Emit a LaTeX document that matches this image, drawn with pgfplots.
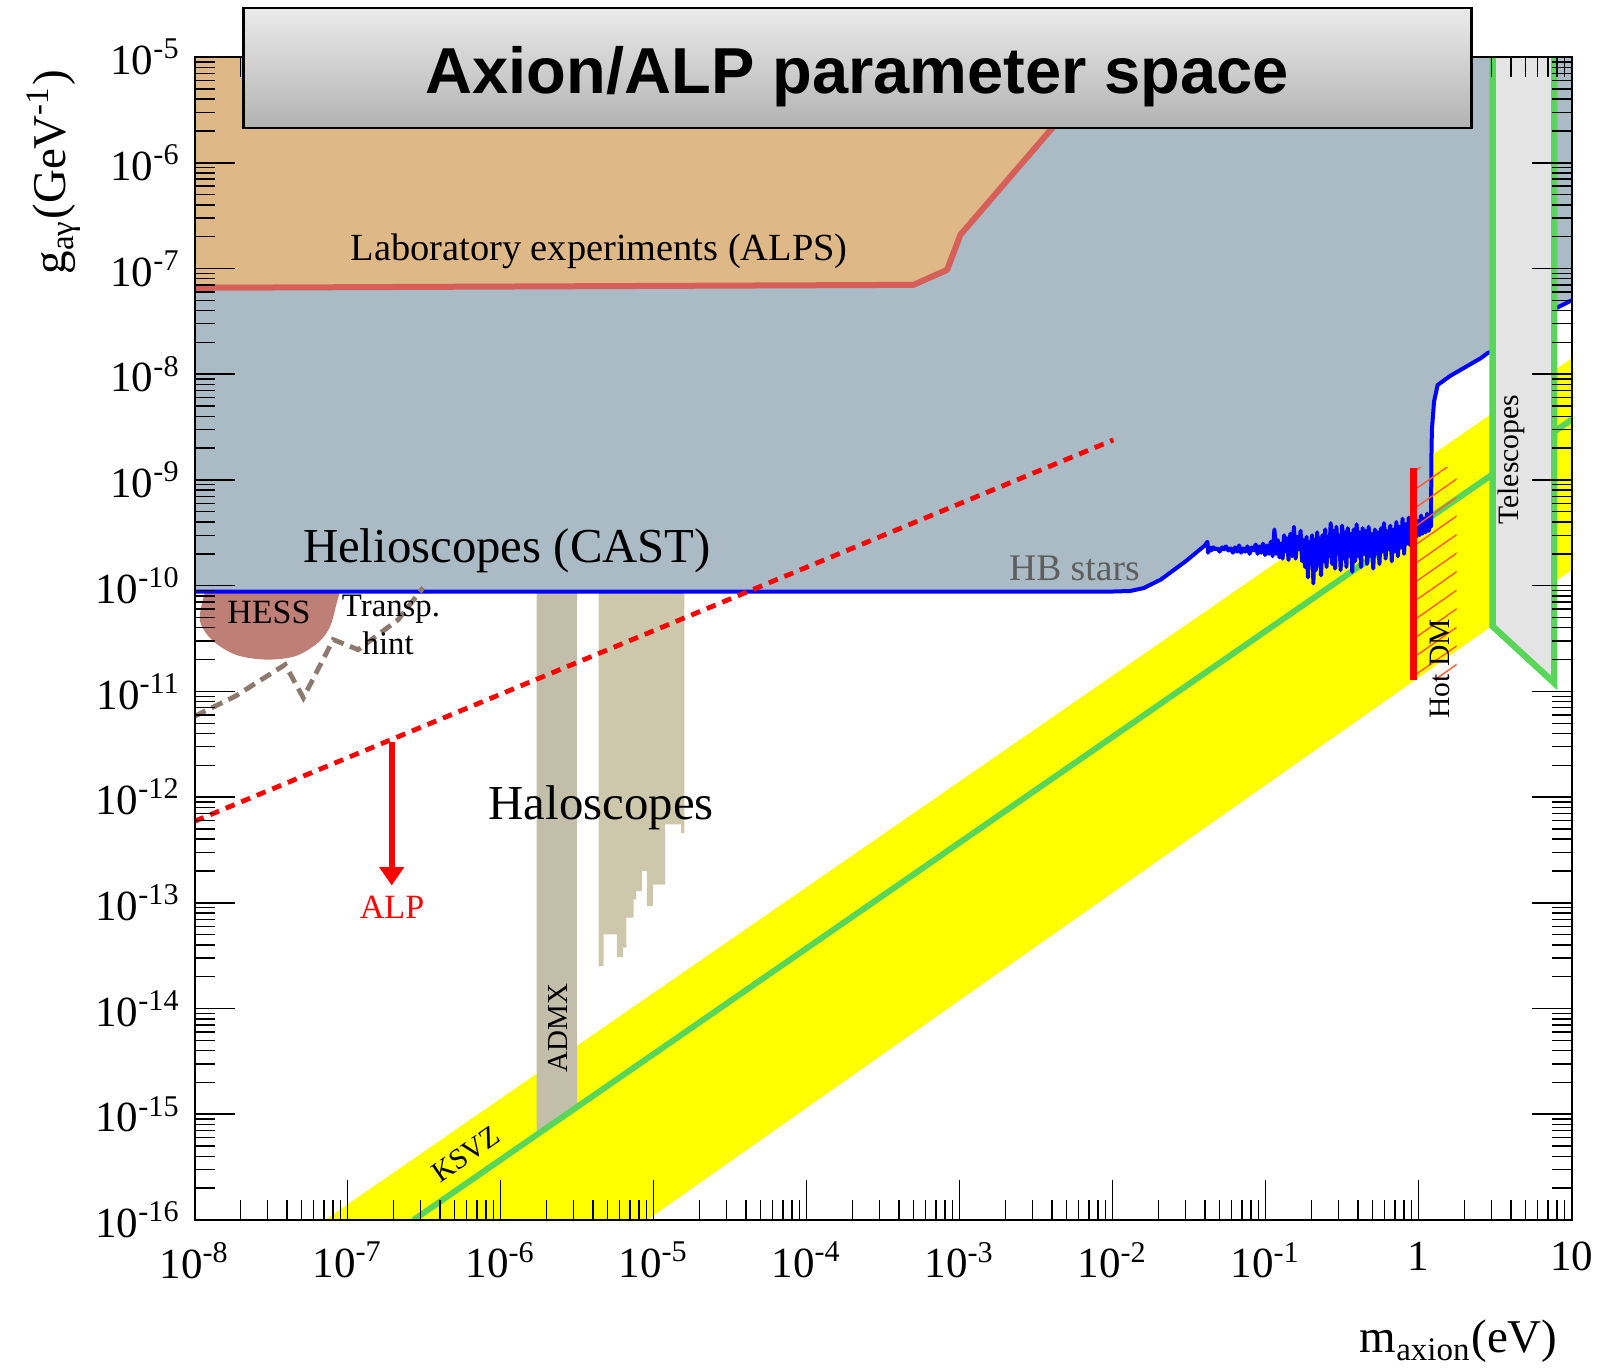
\documentclass[border=0pt]{standalone}
\usepackage{fontspec}
\setmainfont{Liberation Serif}
\newfontfamily\titlefont{Liberation Sans}
\usepackage{pgfplots}
\usepackage{pgfplotstable}
\pgfplotsset{compat=1.18}
\usetikzlibrary{arrows.meta,patterns.meta}

\definecolor{alpstan}{HTML}{DEB887}
\definecolor{alpsred}{HTML}{D65F59}
\definecolor{helio}{HTML}{AABBC5}
\definecolor{hess}{HTML}{BE8076}
\definecolor{transp}{HTML}{8C7A6E}
\definecolor{admx}{HTML}{C2BEA9}
\definecolor{halo}{HTML}{CDC7AB}
\definecolor{ksvz}{HTML}{59D659}
\definecolor{telesc}{HTML}{E4E4E4}
\definecolor{hbgray}{HTML}{5E5E5E}
\definecolor{hatch}{HTML}{FF5A32}
\definecolor{band}{HTML}{FFFF00}

% minor ticks at 2..9 times each power of ten
\def\xminor{1e-8}
\foreach \e in {-8,...,0}{\foreach \m in {2,...,9}{\xdef\xminor{\xminor,\m e\e}}}
\def\yminor{1e-16}
\foreach \e in {-16,...,-6}{\foreach \m in {2,...,9}{\xdef\yminor{\yminor,\m e\e}}}

% helioscope (CAST) + HB-star limit; first two rows close the excluded area
\pgfplotstableread{
m g
10 1e-5
1e-8 1e-5
1e-8 8.8e-11
1.0e-2 8.8e-11
1.3e-2 8.9e-11
1.6e-2 9.5e-11
2.06e-2 1.14e-10
3.0e-2 1.7e-10
4.0e-2 2.4e-10
0.0416 2.6e-10
0.0420 2.05e-10
0.0430 2.3e-10
0.0440 2.15e-10
0.0455 2.3e-10
0.0470 2.2e-10
0.0485 2.25e-10
0.0500 2.1e-10
0.0520 2.3e-10
0.0535 2.2e-10
0.0550 2.35e-10
0.0570 2.15e-10
0.0590 2.25e-10
0.0610 2.05e-10
0.0630 2.3e-10
0.0650 2.1e-10
0.0670 2.4e-10
0.0690 2.05e-10
0.0710 2.25e-10
0.0735 2.1e-10
0.0760 2.35e-10
0.0785 2.0e-10
0.0810 2.3e-10
0.0835 2.15e-10
0.0860 2.45e-10
0.0885 2.0e-10
0.0910 2.35e-10
0.0935 2.05e-10
0.0960 2.5e-10
0.0990 1.95e-10
0.1020 2.4e-10
0.1050 2.0e-10
0.1080 2.6e-10
0.1110 1.9e-10
0.1140 3.4e-10
0.1170 2.0e-10
0.1200 2.7e-10
0.1230 1.85e-10
0.1260 2.5e-10
0.1290 1.8e-10
0.1320 3.0e-10
0.1350 2.1e-10
0.1380 2.8e-10
0.1410 1.75e-10
0.1450 3.1e-10
0.1490 1.9e-10
0.1530 3.6e-10
0.1570 1.8e-10
0.1610 2.9e-10
0.1650 2.2e-10
0.1690 3.3e-10
0.1730 1.7e-10
0.1770 2.7e-10
0.1810 1.5e-10
0.1850 2.9e-10
0.1890 1.2e-10
0.1930 2.6e-10
0.1970 1.6e-10
0.2010 3.0e-10
0.2050 1.05e-10
0.2090 2.7e-10
0.2130 1.4e-10
0.2170 3.2e-10
0.2210 1.6e-10
0.2250 2.8e-10
0.2300 1.25e-10
0.2350 3.0e-10
0.2400 1.7e-10
0.2450 3.4e-10
0.2500 1.5e-10
0.2550 2.9e-10
0.2600 1.9e-10
0.2660 3.9e-10
0.2720 1.6e-10
0.2780 3.3e-10
0.2840 1.45e-10
0.2900 3.6e-10
0.2960 2.0e-10
0.3020 3.0e-10
0.3090 1.4e-10
0.3160 3.7e-10
0.3230 1.8e-10
0.3300 3.2e-10
0.3370 1.5e-10
0.3440 3.5e-10
0.3520 1.9e-10
0.3600 3.1e-10
0.3680 1.35e-10
0.3760 3.4e-10
0.3840 1.7e-10
0.3930 3.8e-10
0.4020 1.9e-10
0.4110 3.2e-10
0.4200 1.5e-10
0.4300 3.5e-10
0.4400 2.0e-10
0.4500 3.3e-10
0.4600 1.6e-10
0.4710 3.6e-10
0.4820 1.9e-10
0.4930 3.1e-10
0.5050 1.45e-10
0.5170 3.4e-10
0.5290 2.0e-10
0.5410 3.2e-10
0.5540 1.6e-10
0.5670 3.5e-10
0.5800 2.1e-10
0.5940 3.9e-10
0.6080 1.8e-10
0.6220 3.3e-10
0.6370 2.2e-10
0.6520 3.7e-10
0.6670 1.7e-10
0.6830 3.4e-10
0.6990 2.1e-10
0.7150 4.0e-10
0.7320 1.9e-10
0.7490 3.6e-10
0.7670 2.3e-10
0.7850 4.3e-10
0.8030 2.0e-10
0.8220 3.8e-10
0.8410 2.5e-10
0.8610 4.4e-10
0.8810 2.4e-10
0.9020 4.0e-10
0.9230 2.7e-10
0.9450 4.5e-10
0.9670 2.9e-10
0.9900 4.1e-10
1.0130 3.0e-10
1.0370 4.6e-10
1.0610 3.1e-10
1.0860 4.3e-10
1.1110 3.2e-10
1.1370 4.8e-10
1.1640 3.3e-10
1.1910 4.5e-10
1.2050 3.6e-10
1.21 1.5e-9
1.22 2.98e-9
1.26 5.5e-9
1.33 7.9e-9
1.6 9.6e-9
2.55 1.42e-8
2.83 1.59e-8
3.1 1.65e-8
7.69 4.13e-8
10 5.0e-8
}\hbtab

\begin{document}
\begin{tikzpicture}
\path[use as bounding box] (0pt,0pt) rectangle (401.25pt,342.25pt);
\begin{axis}[
  at={(48.675pt,37.25pt)}, anchor=south west,
  scale only axis, width=344.25pt, height=290.75pt,
  xmode=log, ymode=log,
  xmin=1e-8, xmax=10, ymin=1e-16, ymax=1e-5,
  axis on top,
  xtick={1e-8,1e-7,1e-6,1e-5,1e-4,1e-3,1e-2,1e-1,1,10},
  xticklabels={10\textsuperscript{-8},10\textsuperscript{-7},10\textsuperscript{-6},10\textsuperscript{-5},10\textsuperscript{-4},10\textsuperscript{-3},10\textsuperscript{-2},10\textsuperscript{-1},1,10},
  ytick={1e-16,1e-15,1e-14,1e-13,1e-12,1e-11,1e-10,1e-9,1e-8,1e-7,1e-6,1e-5},
  yticklabels={10\textsuperscript{-16},10\textsuperscript{-15},10\textsuperscript{-14},10\textsuperscript{-13},10\textsuperscript{-12},10\textsuperscript{-11},10\textsuperscript{-10},10\textsuperscript{-9},10\textsuperscript{-8},10\textsuperscript{-7},10\textsuperscript{-6},10\textsuperscript{-5}},
  minor xtick/.expand once={\xminor},
  minor ytick/.expand once={\yminor},
  major tick length=10pt, minor tick length=5pt,
  every tick/.style={black, line width=0.4pt},
  every minor tick/.style={black, line width=0.35pt},
  axis line style={line width=0.5pt},
  tick label style={font=\fontsize{10.75}{12}\selectfont},
  xticklabel style={yshift=-2pt},
]
% QCD axion band and KSVZ model line
\addplot[fill=band, draw=none] coordinates {(7.11e-8,1e-16) (10,1.41e-8) (10,1.41e-10) (9.04e-6,1e-16)};
% haloscopes
\addplot[fill=admx, draw=none] coordinates {(1.72e-6,8.83e-11) (1.72e-6,6.6e-16) (3.16e-6,1.2e-15) (3.16e-6,8.83e-11)};
\addplot[fill=halo, draw=none] coordinates {
 (4.37e-6,8.83e-11) (4.37e-6,2.52e-14) (4.70e-6,2.52e-14) (4.70e-6,5.03e-14)
 (5.75e-6,5.03e-14) (5.75e-6,3.07e-14) (6.30e-6,3.07e-14) (6.30e-6,3.77e-14)
 (6.62e-6,3.77e-14) (6.62e-6,7.23e-14) (7.40e-6,7.23e-14) (7.40e-6,1.08e-13)
 (7.69e-6,1.08e-13) (7.69e-6,1.29e-13) (8.38e-6,1.29e-13) (8.38e-6,2.0e-13)
 (9.04e-6,2.0e-13) (9.04e-6,9.31e-14) (9.88e-6,9.31e-14) (9.88e-6,1.49e-13)
 (1.19e-5,1.49e-13) (1.19e-5,5.51e-13) (1.51e-5,5.51e-13) (1.51e-5,4.60e-13)
 (1.585e-5,4.60e-13) (1.585e-5,8.83e-11)};
\addplot[ksvz, line width=1.5pt] coordinates {(2.69e-7,1e-16) (10,3.72e-9)};
% helioscopes and HB stars
\addplot[fill=helio, draw=none] table {\hbtab};
% laboratory (ALPS)
\addplot[fill=alpstan, draw=none] coordinates {(1e-8,1e-5) (1e-8,6.56e-8) (4.99e-4,7.0e-8) (8.28e-4,9.7e-8) (1.01e-3,2.08e-7) (1.01e-2,1e-5)};
\addplot[alpsred, line width=1.5pt, line join=round] coordinates {(1e-8,6.56e-8) (4.99e-4,7.0e-8) (8.28e-4,9.7e-8) (1.01e-3,2.08e-7) (1.01e-2,1e-5)};
% HESS
\addplot[fill=hess, draw=none, smooth, tension=0.55] coordinates {
 (1.17e-8,8.83e-11) (1.08e-8,4.77e-11) (1.29e-8,3.09e-11) (1.84e-8,2.23e-11)
 (2.88e-8,2.00e-11) (4.53e-8,2.15e-11) (6.41e-8,2.89e-11) (7.68e-8,4.12e-11)
 (8.49e-8,6.90e-11) (8.92e-8,8.83e-11)};
\addplot[blue, line width=1pt, line join=round, skip coords between index={0}{2}] table {\hbtab};
% transparency hint
\addplot[transp, line width=1.2pt, dash pattern=on 3pt off 1.7pt] coordinates {
 (1.0e-8,5.82e-12) (1.84e-8,8.99e-12) (3.90e-8,1.79e-11) (5.13e-8,8.69e-12)
 (8.05e-8,3.09e-11) (1.17e-7,2.48e-11) (2.14e-7,4.77e-11) (3.11e-7,9.57e-11)};
% ALP line and arrow
\addplot[red, line width=1.2pt, dash pattern=on 2.4pt off 1.8pt] coordinates {(1e-8,5.92e-13) (1.01e-2,2.39e-9)};
\addplot[red, line width=1.4pt, -{Triangle[width=6pt,length=4.6pt]}] coordinates {(1.94e-7,3.30e-12) (1.94e-7,1.46e-13)};
% hot dark matter
\addplot[draw=none, pattern={Lines[angle=35,distance=3.8pt,line width=0.35pt]}, pattern color=hatch] coordinates {(0.923,1.31e-9) (1.77,1.31e-9) (1.77,1.29e-11) (0.923,1.29e-11)};
\addplot[red, line width=1.6pt] coordinates {(0.923,1.31e-9) (0.923,1.29e-11)};
% telescopes
\addplot[fill=telesc, draw=none] coordinates {(3.04,1e-5) (3.04,4.13e-11) (7.69,1.20e-11) (7.69,1e-5)};
\addplot[ksvz, line width=1.6pt, line join=miter] coordinates {(3.04,1e-5) (3.04,4.13e-11) (7.69,1.20e-11) (7.69,1e-5)};

% labels
\node[font=\fontsize{9.6}{11}\selectfont] at (4.40e-6,1.44e-7) {Laboratory experiments (ALPS)};
\node[font=\fontsize{12.2}{14}\selectfont] at (1.10e-6,2.16e-10) {Helioscopes (CAST)};
\node[font=\fontsize{12.2}{14}\selectfont] at (4.54e-6,7.87e-13) {Haloscopes};
\node[font=\fontsize{9.4}{11}\selectfont, text=hbgray] at (5.62e-3,1.45e-10) {HB stars};
\node[font=\fontsize{8.5}{10}\selectfont] at (3.06e-8,5.62e-11) {HESS};
\node[font=\fontsize{8.2}{10}\selectfont] at (1.92e-7,5.93e-11) {Transp.};
\node[font=\fontsize{8.2}{10}\selectfont] at (1.84e-7,2.83e-11) {hint};
\node[font=\fontsize{8.5}{10}\selectfont, text=red] at (1.95e-7,9.05e-14) {ALP};
\node[font=\fontsize{7.25}{9}\selectfont, rotate=90] at (2.37e-6,6.55e-15) {ADMX};
\node[font=\fontsize{7.25}{9}\selectfont, rotate=34.8] at (5.94e-7,4.19e-16) {KSVZ};
\node[font=\fontsize{7.4}{9}\selectfont, rotate=90] at (1.38,1.64e-11) {Hot DM};
\node[font=\fontsize{7.4}{9}\selectfont, rotate=90] at (4.06,1.55e-9) {Telescopes};
\end{axis}

\begin{scope}[x=0.25pt,y=0.25pt]
% axis titles
\node[anchor=base east, font=\fontsize{11.75}{14}\selectfont] at (1571.7,16) {m\textsubscript{axion}(eV)};
\node[rotate=90, anchor=base east, font=\fontsize{11.75}{14}\selectfont] at (66,1313) {g\textsubscript{aγ}(GeV\textsuperscript{-1})};
% title box
\draw[line width=0.65pt, top color=black!8, bottom color=black!30] (243.5,1241) rectangle (1471.5,1361);
\node[anchor=base, font=\titlefont\bfseries\fontsize{16.25}{19}\selectfont] at (857.5,1275) {Axion/ALP parameter space};
\end{scope}
\end{tikzpicture}
\end{document}
